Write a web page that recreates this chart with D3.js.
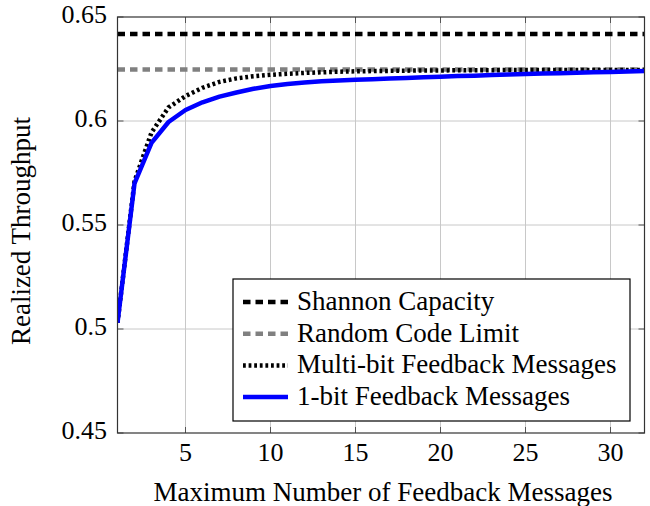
<!DOCTYPE html>
<html><head><meta charset="utf-8">
<script src="https://cdn.jsdelivr.net/npm/d3@7"></script>
<style>svg text{font-family:"Liberation Serif","Times New Roman","Nimbus Roman",FreeSerif,serif;}</style>
</head><body style="margin:0"><svg id="c" width="650" height="506"></svg>
<script>
const xs = d3.range(1, 33);
const oneBit = [0.503,0.570,0.5895,0.5995,0.6053,0.6090,0.6117,0.6137,0.6155,0.6168,0.6178,0.6185,0.6191,0.6195,0.6198,0.6201,0.6204,0.6207,0.6210,0.6213,0.6216,0.6218,0.6221,0.6223,0.6226,0.6228,0.6230,0.6232,0.6234,0.6236,0.6238,0.6240];
const multiBit = [0.503,0.571,0.5945,0.6065,0.6120,0.6160,0.6188,0.6205,0.6215,0.6222,0.6227,0.6231,0.6234,0.6237,0.6239,0.6240,0.6241,0.6242,0.6243,0.6243,0.6244,0.6244,0.6244,0.6245,0.6245,0.6245,0.6245,0.6245,0.6245,0.6245,0.6245,0.6245];
const shannon = 0.6418;
const randomLimit = 0.6247;
const xTicks = [5,10,15,20,25,30];
const yTicks = [0.45,0.5,0.55,0.6,0.65];
const legendLabels = ["Shannon Capacity","Random Code Limit","Multi-bit Feedback Messages","1-bit Feedback Messages"];

const FONT = '"Liberation Serif", "Times New Roman", "Nimbus Roman", FreeSerif, serif';
const svg = d3.select("#c");
const L=117.5, R=644.5, T=17, B=433;
const x = d3.scaleLinear().domain([1,32]).range([L,R]);
const y = d3.scaleLinear().domain([0.45,0.65]).range([B,T]);
function txt(sel, fs){ return sel.attr("font-size",fs).attr("font-family",FONT).style("font-family",FONT); }

// grid
svg.append("g").selectAll("line").data(xTicks).join("line")
  .attr("x1",d=>x(d)).attr("x2",d=>x(d)).attr("y1",T).attr("y2",B)
  .attr("stroke","#c8c8c8").attr("stroke-width",1);
svg.append("g").selectAll("line").data(yTicks.slice(1,-1)).join("line")
  .attr("y1",d=>y(d)).attr("y2",d=>y(d)).attr("x1",L).attr("x2",R)
  .attr("stroke","#c8c8c8").attr("stroke-width",1);

svg.append("defs").append("clipPath").attr("id","cp").append("rect")
  .attr("x",L).attr("y",T).attr("width",R-L).attr("height",B-T);
const g = svg.append("g").attr("clip-path","url(#cp)");

const line = d3.line().x((d,i)=>x(xs[i])).y(d=>y(d));
const styles = [
  {c:"#000",w:4.5,da:"7.5,5"},
  {c:"#808080",w:4.5,da:"7.5,5"},
  {c:"#000",w:4.5,da:"2.8,2.8"},
  {c:"#0000ff",w:4.5,da:null}
];
g.append("line").attr("x1",x(1)).attr("x2",x(32)).attr("y1",y(shannon)).attr("y2",y(shannon))
  .attr("stroke",styles[0].c).attr("stroke-width",styles[0].w).attr("stroke-dasharray",styles[0].da);
g.append("line").attr("x1",x(1)).attr("x2",x(32)).attr("y1",y(randomLimit)).attr("y2",y(randomLimit))
  .attr("stroke",styles[1].c).attr("stroke-width",styles[1].w).attr("stroke-dasharray",styles[1].da);
g.append("path").datum(multiBit).attr("d",line).attr("fill","none")
  .attr("stroke",styles[2].c).attr("stroke-width",styles[2].w).attr("stroke-dasharray",styles[2].da);
g.append("path").datum(oneBit).attr("d",line).attr("fill","none")
  .attr("stroke",styles[3].c).attr("stroke-width",styles[3].w).attr("stroke-linejoin","round");

// ticks (inward, both sides)
const tk = svg.append("g").attr("stroke","#555").attr("stroke-width",1);
xTicks.forEach(v=>{
  tk.append("line").attr("x1",x(v)).attr("x2",x(v)).attr("y1",B).attr("y2",B-6);
  tk.append("line").attr("x1",x(v)).attr("x2",x(v)).attr("y1",T).attr("y2",T+6);
});
yTicks.forEach(v=>{
  tk.append("line").attr("y1",y(v)).attr("y2",y(v)).attr("x1",L).attr("x2",L+6);
  tk.append("line").attr("y1",y(v)).attr("y2",y(v)).attr("x1",R).attr("x2",R-6);
});
svg.append("rect").attr("x",L).attr("y",T).attr("width",R-L).attr("height",B-T)
  .attr("fill","none").attr("stroke","#333").attr("stroke-width",1.2);

// tick labels
txt(svg.append("g").selectAll("text").data(xTicks).join("text"), 26)
  .attr("x",d=>x(d)).attr("y",461).attr("text-anchor","middle").text(d=>d);
txt(svg.append("g").selectAll("text").data(yTicks).join("text"), 26)
  .attr("x",107).attr("y",d=>y(d)+6).attr("text-anchor","end").text(d=>d);

txt(svg.append("text"), 27).attr("x",(L+R)/2 + 2).attr("y",501).attr("text-anchor","middle")
  .text("Maximum Number of Feedback Messages");
txt(svg.append("text"), 27).attr("transform",`translate(30,231) rotate(-90)`).attr("text-anchor","middle")
  .text("Realized Throughput");

// legend
const lg = svg.append("g");
lg.append("rect").attr("x",233).attr("y",279).attr("width",397).attr("height",142)
  .attr("fill","#fff").attr("stroke","#000").attr("stroke-width",1.2);
legendLabels.forEach((t,i)=>{
  const yy = 302 + i*31.7;
  const s = styles[i];
  lg.append("line").attr("x1",243).attr("x2",288).attr("y1",yy).attr("y2",yy)
    .attr("stroke",s.c).attr("stroke-width",s.w).attr("stroke-dasharray",s.da);
  txt(lg.append("text"), 27).attr("x",297).attr("y",yy+8).text(t);
});
</script></body></html>
